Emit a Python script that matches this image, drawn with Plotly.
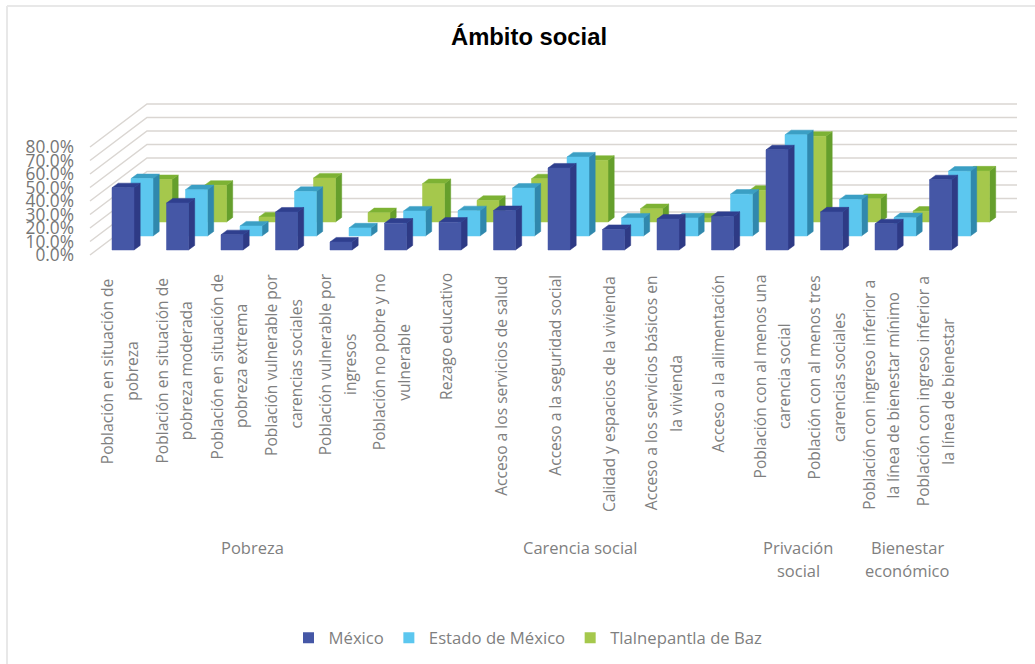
import plotly.graph_objects as go

# ---------- data ----------
categories = [
    "Población en situación de\npobreza",
    "Población en situación de\npobreza moderada",
    "Población en situación de\npobreza extrema",
    "Población vulnerable por\ncarencias sociales",
    "Población vulnerable por\ningresos",
    "Población no pobre y no\nvulnerable",
    "Rezago educativo",
    "Acceso a los servicios de salud",
    "Acceso a la seguridad social",
    "Calidad y espacios de la vivienda",
    "Acceso a los servicios básicos en\nla vivienda",
    "Acceso a la alimentación",
    "Población con al menos una\ncarencia social",
    "Población con al menos tres\ncarencias sociales",
    "Población con ingreso inferior a\nla línea de bienestar mínimo",
    "Población con ingreso inferior a\nla línea de bienestar",
]
mexico = [46.1, 34.8, 11.3, 28.1, 5.9, 19.9, 20.6, 29.2, 60.7, 15.2, 22.9, 24.9, 74.2, 28.2, 19.4, 52.0]
edomex = [42.5, 34.3, 7.4, 33.0, 6.0, 18.5, 18.7, 35.5, 58.5, 13.3, 13.4, 31.0, 75.0, 27.0, 13.6, 48.0]
tlalne = [31.4, 27.2, 3.7, 32.6, 6.9, 28.4, 16.0, 32.0, 45.7, 9.9, 3.0, 23.5, 63.5, 17.3, 8.0, 37.8]
series_names = ["México", "Estado de México", "Tlalnepantla de Baz"]
y_ticks = [0, 10, 20, 30, 40, 50, 60, 70, 80]
groups = [("Pobreza", 252), ("Carencia social", 580), ("Privación\nsocial", 798), ("Bienestar\neconómico", 907)]
title = "Ámbito social"

# ---------- projection / layout constants (pixels of the 1035x664 page) ----------
W, H = 1035, 664
PX_STEP, PX_FIRST = 54.5, 112.0      # category step, left edge of first front bar
PX_PER_PCT = 1.35
PX_ZERO = 255.0                      # pixel row of value 0 at the front of the floor
L, R, T, B = 75, 1030, 98, 262       # plot area

def ux(px):  # pixel column to category units
    return (px - PX_FIRST) / PX_STEP
def uy(py):  # pixel row to percent units
    return (PX_ZERO - py) / PX_PER_PCT
def du(dpx):
    return dpx / PX_STEP
def dv(dpx):
    return dpx / PX_PER_PCT
def paper_x(px):
    return px / W
def paper_y(py):
    return 1 - py / H

BAR_W = du(22)
SIDE_X, SIDE_Y = du(6.2), dv(4.6)
ROW_X, ROW_Y = du(19), dv(14)        # offset between the rows of bars
BASE_V = uy(250)

colors = [
    dict(front="#4557A6", top="#2F3F8E", side="#2E3A85"),
    dict(front="#5CC7EF", top="#3B9FC4", side="#3088AD"),
    dict(front="#A5C84C", top="#7DB234", side="#659F2C"),
]
GRID = "#DAD6D2"
TEXT = "#7F7F7F"
FONT = "Open Sans"

fig = go.Figure()

# ---------- walls ----------
wall_x0, wall_x1, wall_x2 = ux(90), ux(147), ux(1017)
wall_d = dv(43)
gx, gy = [], []
for t in y_ticks:
    gx += [wall_x0, wall_x1, wall_x2, None]
    gy += [t, t + wall_d, t + wall_d, None]
fig.add_trace(go.Scatter(x=gx, y=gy, mode="lines", line=dict(color=GRID, width=1.5),
                         hoverinfo="skip", showlegend=False))

# ---------- bars, back row first ----------
rows = [mexico, edomex, tlalne]
for k in [2, 1, 0]:
    fx, fy, sx, sy, tx, ty = [], [], [], [], [], []
    base = BASE_V + k * ROW_Y
    for i, val in enumerate(rows[k]):
        x0 = i + k * ROW_X
        x1 = x0 + BAR_W
        top = base + val
        fx += [x0, x1, x1, x0, x0, None]
        fy += [base, base, top, top, base, None]
        sx += [x1, x1 + SIDE_X, x1 + SIDE_X, x1, x1, None]
        sy += [base, base + SIDE_Y, top + SIDE_Y, top, base, None]
        tx += [x0, x1, x1 + SIDE_X, x0 + SIDE_X, x0, None]
        ty += [top, top, top + SIDE_Y, top + SIDE_Y, top, None]
    c = colors[k]
    for xs, ys, col in ((sx, sy, c["side"]), (tx, ty, c["top"]), (fx, fy, c["front"])):
        fig.add_trace(go.Scatter(x=xs, y=ys, mode="lines", fill="toself", fillcolor=col,
                                 line=dict(color=col, width=0.5), hoverinfo="skip", showlegend=False))

# ---------- legend entries, in reading order ----------
for k, name in enumerate(series_names):
    fig.add_trace(go.Scatter(x=[None], y=[None], mode="markers", name=name,
                             marker=dict(symbol="square", size=11, color=colors[k]["front"])))

# ---------- rotated category labels (lines centred on one another) ----------
label_mid_py = [371, 371, 366.5, 364.5, 364.5, 362, 336, 385.5, 375, 394, 393, 363.5, 376.5, 377, 395, 391]
LABEL_X0, LINE_GAP = 119.5, 24.6
annotations = []
for i, text in enumerate(categories):
    lines = text.split("\n")
    for j, line in enumerate(lines):
        px = LABEL_X0 + 54.4 * i + (j - (len(lines) - 1) / 2) * LINE_GAP
        annotations.append(dict(x=paper_x(px), y=paper_y(label_mid_py[i]), xref="paper", yref="paper", text=line,
                                textangle=-90, showarrow=False, xanchor="center", yanchor="middle",
                                font=dict(family=FONT, size=15.6, color=TEXT)))
for name, cx in groups:
    for j, line in enumerate(name.split("\n")):
        annotations.append(dict(x=paper_x(cx), y=paper_y(547 + 23 * j), xref="paper", yref="paper", text=line,
                                showarrow=False, xanchor="center", yanchor="middle",
                                font=dict(family=FONT, size=16.5, color=TEXT)))

fig.update_layout(
    width=W, height=H, autosize=False,
    paper_bgcolor="white", plot_bgcolor="white",
    margin=dict(l=0, r=0, t=0, b=0, autoexpand=False),
    title=dict(text="<b>" + title + "</b>", x=529 / W, xref="container", xanchor="center",
               y=1 - 37 / H, yref="container", yanchor="middle",
               font=dict(family="Liberation Sans", size=23.8, color="black")),
    xaxis=dict(domain=[L / W, R / W], range=[ux(L), ux(R)], visible=False, fixedrange=True),
    yaxis=dict(domain=[1 - B / H, 1 - T / H], range=[uy(B), uy(T)], tickmode="array", tickvals=y_ticks,
               ticktext=[f"{t:.1f}%" for t in y_ticks], showgrid=False, zeroline=False,
               showline=False, ticks="", fixedrange=True,
               tickfont=dict(family=FONT, size=17.3, color="#767676")),
    showlegend=True,
    legend=dict(orientation="h", x=paper_x(528), xanchor="center",
                y=paper_y(638), yanchor="middle", yref="paper", traceorder="normal",
                font=dict(family=FONT, size=16.7, color=TEXT), bgcolor="rgba(0,0,0,0)"),
    annotations=annotations,
    shapes=[
        dict(type="line", xref="paper", yref="paper", x0=paper_x(7), x1=paper_x(7),
             y0=paper_y(664), y1=paper_y(6), line=dict(color="#E8E8E8", width=2)),
        dict(type="line", xref="paper", yref="paper", x0=paper_x(7), x1=paper_x(1035),
             y0=paper_y(6), y1=paper_y(6), line=dict(color="#E8E8E8", width=2)),
    ],
)

fig.write_html("out.html", config=dict(displayModeBar=False),
               post_script="document.body.style.margin='0';")
